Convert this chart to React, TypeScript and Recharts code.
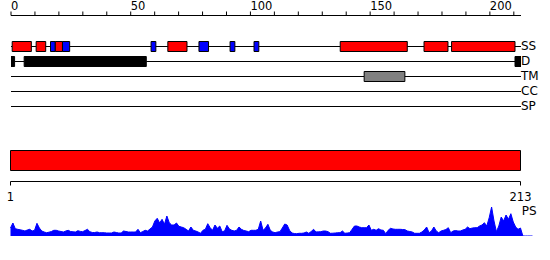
import React from 'react';
import { ComposedChart, BarChart, AreaChart, Bar, Area, XAxis, YAxis, Cell } from 'recharts';

const FONT = '"DejaVu Sans", Verdana, sans-serif';
const RED = '#ff0000';
const BLUE = '#0000ff';
const GRAY = '#808080';
const BLACK = '#000000';

const SEQ_LENGTH = 213;
const topTicks = [0, 10, 20, 30, 40, 50, 60, 70, 80, 90, 100, 110, 120, 130, 140, 150, 160, 170, 180, 190, 200, 210];
const topTickLabels = [0, 50, 100, 150, 200];
const trackNames = ['SS', 'D', 'TM', 'CC', 'SP'];

// secondary structure: helices (red) and strands (blue)
const helixSegments = [[0.5, 8.5], [10.5, 14.5], [18.5, 21.5], [65.5, 73.5], [137.5, 165.5], [172.5, 182.5], [184, 210.5]];
const strandSegments = [[16.5, 18.5], [21.5, 24.5], [58.5, 60.5], [78.5, 82.5], [91.5, 93.5], [101.5, 103.5]];
const disorderSegments = [[0, 1.5], [5.5, 56.5], [210.5, 213]];
const tmSegments = [[147.5, 164.5]];
const ccSegments: number[][] = [];
const spSegments: number[][] = [];

const sequenceRange = [1, 213];
const sequenceTicks = [1, 213];

const psScore = [
  8, 13, 7.3, 6.7, 6.2, 5.7, 5, 6, 6.7, 5,
  5.7, 12.7, 8, 5, 4, 3.3, 3.8, 4.5, 5.7, 5.7,
  5, 4.5, 4, 5, 5.7, 4.5, 4.2, 4, 5.3, 4.6,
  4.3, 5.5, 6.7, 4.3, 3.5, 3.5, 4, 3.3, 3.3, 3.3,
  3, 3, 3, 4, 3.5, 3, 3, 5, 4.5, 4,
  4, 4, 4, 6.7, 3.3, 4.5, 5.7, 5, 7, 9,
  15, 17.7, 13, 16.7, 11.7, 20, 13.3, 11, 11, 13,
  9.7, 9, 8.3, 6.7, 5, 9, 5.7, 5, 4, 2.7,
  5.7, 6.7, 12.3, 8.3, 5.7, 11, 7.7, 10, 4.3, 5,
  10.7, 7, 5.7, 5, 5.7, 9, 6.7, 5.5, 5, 4.3,
  5.7, 5.7, 5.7, 6.7, 15, 5.7, 8, 11.7, 5.7, 4,
  3.3, 4, 4.3, 8, 12, 11, 5.7, 3, 2.5, 2.3,
  2.7, 2.7, 3, 4, 2.7, 4.5, 6.7, 4, 4.2, 4.3,
  5, 5, 4.3, 2.7, 2.8, 3, 3.3, 3.3, 5, 2.7,
  3, 3.3, 6.7, 10, 10, 9, 8.3, 8.3, 8.3, 11,
  5.7, 6.7, 5.7, 7.3, 6, 5.7, 2.3, 5.7, 7.7, 7,
  6.7, 6.7, 6.7, 6.5, 6.3, 5, 4.5, 4, 2.7, 2.7,
  2.7, 4, 6, 9, 3.3, 5, 9, 5, 3.3, 5,
  5.7, 6.5, 8.3, 3.3, 5, 5.5, 5, 5, 6, 6.7,
  9, 7.3, 8, 8.3, 8.3, 10, 11, 13.3, 10, 18.3,
  29, 15, 4.3, 10, 19, 15, 21, 16.7, 22.3, 14,
  9, 6.7, 8,
];
const psTail = [0, 0, 0, 0, 0];

type Seg = { start: number; end: number; color: string };
const toSegs = (list: number[][], color: string): Seg[] => list.map(([s, e]) => ({ start: s, end: e, color }));

const trackSegs: Seg[][] = [
  [...toSegs(helixSegments, RED), ...toSegs(strandSegments, BLUE)].sort((a, b) => a.start - b.start),
  toSegs(disorderSegments, BLACK),
  toSegs(tmSegments, GRAY),
  toSegs(ccSegments, BLACK),
  toSegs(spSegments, BLACK),
];
const MAX_SEGS = Math.max(...trackSegs.map((s) => s.length));

const trackRows = trackNames.map((name, i) => {
  const row: Record<string, any> = { name };
  for (let k = 0; k <= MAX_SEGS; k++) {
    row[`g${k}`] = 0;
    row[`s${k}`] = 0;
  }
  let pos = 0;
  trackSegs[i].forEach((seg, k) => {
    row[`g${k}`] = seg.start - pos;
    row[`s${k}`] = seg.end - seg.start;
    pos = seg.end;
  });
  row[`g${trackSegs[i].length}`] = SEQ_LENGTH - pos;
  return row;
});

const psRows = [
  ...psScore.map((v, i) => ({ pos: i + 1, ps: v })),
  ...psTail.map((v, i) => ({ pos: psScore.length + 1 + i, ps: v })),
];

const GapLine = (props: any) => {
  const { x, y, width, height } = props;
  if (!width || width <= 0) return <g />;
  const cy = y + height / 2;
  return <line x1={x} x2={x + width} y1={cy} y2={cy} stroke={BLACK} strokeWidth={1} />;
};

const TopTick = (props: any) => {
  const { x, payload } = props;
  if (!topTickLabels.includes(payload.value)) return <g />;
  return (
    <text x={x} y={10.3} textAnchor="start" fontSize={11.5} fontFamily={FONT} fill={BLACK}>
      {payload.value}
    </text>
  );
};

const TrackTick = (props: any) => {
  const { x, y, payload } = props;
  return (
    <text x={x} y={y - 0.7} dy="0.355em" textAnchor="start" fontSize={12} fontFamily={FONT} fill={BLACK}>
      {payload.value}
    </text>
  );
};

const BottomTick = (props: any) => {
  const { x, y, payload } = props;
  return (
    <text x={x} y={y} dy="0.71em" textAnchor="middle" fontSize={11.5} fontFamily={FONT} fill={BLACK}>
      {payload.value}
    </text>
  );
};

const abs = (left: number, top: number): React.CSSProperties => ({ position: 'absolute', left, top });

export default function App() {
  const barKeys: React.ReactNode[] = [];
  for (let k = 0; k <= MAX_SEGS; k++) {
    barKeys.push(
      <Bar key={`g${k}`} dataKey={`g${k}`} stackId="t" fill="none" shape={GapLine} isAnimationActive={false} />
    );
    if (k < MAX_SEGS) {
      barKeys.push(
        <Bar key={`s${k}`} dataKey={`s${k}`} stackId="t" stroke={BLACK} strokeWidth={1} isAnimationActive={false}>
          {trackRows.map((_, i) => (
            <Cell key={i} fill={trackSegs[i][k] ? trackSegs[i][k].color : 'none'} />
          ))}
        </Bar>
      );
    }
  }

  return (
    <div style={{ position: 'absolute', left: 0, top: 0, width: 550, height: 260, background: '#fff', fontFamily: FONT }}>
      {/* top ruler */}
      <div style={abs(0, 0)}>
        <ComposedChart width={550} height={20} data={[{ v: 0 }, { v: SEQ_LENGTH }]} margin={{ top: 0, right: 29, bottom: 0, left: 11 }}>
          <XAxis
            type="number"
            dataKey="v"
            orientation="top"
            domain={[0, SEQ_LENGTH]}
            ticks={topTicks}
            interval={0}
            height={15.5}
            tickSize={4}
            tickMargin={1}
            stroke={BLACK}
            tick={TopTick}
            allowDataOverflow
          />
        </ComposedChart>
      </div>

      {/* feature tracks */}
      <div style={abs(0, 0)}>
        <BarChart
          width={550}
          height={120}
          layout="vertical"
          data={trackRows}
          barSize={10}
          margin={{ top: 38.5, right: 0, bottom: 6.5, left: 11 }}
        >
          <XAxis type="number" domain={[0, SEQ_LENGTH]} hide allowDataOverflow />
          <YAxis
            type="category"
            dataKey="name"
            orientation="right"
            width={29}
            axisLine={false}
            tickLine={false}
            tickSize={0}
            tickMargin={0}
            tick={TrackTick}
            interval={0}
          />
          {barKeys}
        </BarChart>
      </div>

      {/* full-length sequence bar with ruler */}
      <div style={abs(0, 130)}>
        <BarChart
          width={550}
          height={80}
          layout="vertical"
          data={[{ name: 'seq', range: sequenceRange }]}
          barSize={20}
          margin={{ top: 9.5, right: 29.5, bottom: 0, left: 10.5 }}
        >
          <XAxis
            type="number"
            domain={sequenceRange}
            ticks={sequenceTicks}
            interval={0}
            height={28.5}
            tickSize={4}
            tickMargin={7}
            stroke={BLACK}
            tick={BottomTick}
          />
          <YAxis type="category" dataKey="name" hide />
          <Bar dataKey="range" fill={RED} stroke={BLACK} strokeWidth={1} isAnimationActive={false} />
        </BarChart>
      </div>

      {/* PS profile */}
      <div style={abs(0, 200)}>
        <AreaChart width={550} height={40} data={psRows} margin={{ top: 6, right: 17.5, bottom: 4, left: 10.5 }}>
          <XAxis type="number" dataKey="pos" domain={[1, psRows.length]} hide />
          <YAxis type="number" domain={[0, 30]} hide allowDataOverflow />
          <Area
            type="linear"
            dataKey="ps"
            stroke={BLUE}
            strokeWidth={1}
            fill={BLUE}
            fillOpacity={1}
            isAnimationActive={false}
            dot={false}
            activeDot={false}
          />
        </AreaChart>
      </div>

      <svg style={abs(515, 200)} width={35} height={20}>
        <text x={6.7} y={15} fontSize={12} fontFamily={FONT} fill={BLACK}>PS</text>
      </svg>
    </div>
  );
}
